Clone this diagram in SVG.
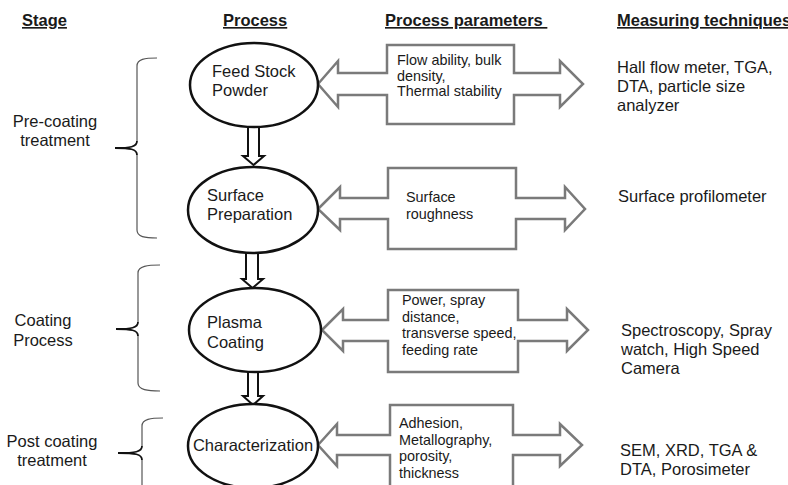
<svg xmlns="http://www.w3.org/2000/svg" width="788" height="485" viewBox="0 0 788 485">
<style>
text{font-family:"Liberation Sans",Arial,sans-serif;fill:#1a1a1a}
.hdr{font-size:16.5px;font-weight:bold;text-decoration:underline}
.body{font-size:16.5px}
.small{font-size:14.4px}
.stage{font-size:16.5px;text-anchor:middle}
.ell{fill:#fff;stroke:#111;stroke-width:2.5}
.down{fill:#fff;stroke:#111;stroke-width:2}
.dbl{fill:#fff;stroke:#7a7a7a;stroke-width:2.5;stroke-linejoin:miter}
.brace{fill:none;stroke:#555;stroke-width:1.2}
.tick{fill:none;stroke:#111;stroke-width:1.8}
</style>
<rect width="788" height="485" fill="#fff"/>

<g id="headers">
<text class="hdr" x="22" y="26">Stage</text>
<text class="hdr" x="223" y="26">Process</text>
<text class="hdr" x="385" y="26">Process parameters&#160;</text>
<text class="hdr" x="617" y="26">Measuring techniques</text>
</g>

<g id="stages">
<g id="stage-pre">
<path class="brace" d="M157,58 C145,58 137,59 137,66 L137,141"/>
<path class="brace" d="M137,155 L137,230 C137,237 145,238 157,238"/>
<path class="tick" d="M115,148 C130,148 137,147 137,141 M115,148 C130,148 137,149 137,155"/>
<text class="stage" x="55" y="127">Pre-coating</text>
<text class="stage" x="55" y="146">treatment</text>
</g>
<g id="stage-coating">
<path class="brace" d="M160,265 C148,265 138,266 138,273 L138,322"/>
<path class="brace" d="M138,336 L138,383 C138,390 148,391 160,391"/>
<path class="tick" d="M116,329 C131,329 138,328 138,322 M116,329 C131,329 138,330 138,336"/>
<text class="stage" x="43" y="326">Coating</text>
<text class="stage" x="43" y="346">Process</text>
</g>
<g id="stage-post">
<path class="brace" d="M163,418 C151,418 142,419 142,426 L142,446"/>
<path class="brace" d="M142,460 L142,520"/>
<path class="tick" d="M118,453 C135,453 142,452 142,446 M118,453 C135,453 142,454 142,460"/>
<text class="stage" x="52" y="447">Post coating</text>
<text class="stage" x="52" y="466">treatment</text>
</g>
</g>

<g id="connectors">
<path class="down" d="M248,127 L259,127 L259,156 L264,156 L253.5,165 L243,156 L248,156 Z"/>
<path class="down" d="M246,253 L258,253 L258,279 L263,279 L252.5,288 L242,279 L246,279 Z"/>
<path class="down" d="M248,371 L258,371 L258,396 L263,396 L253,405 L243,396 L248,396 Z"/>
</g>

<g id="param-feed">
<path class="dbl" d="M318,84 L338,61 L338,73 L387,73 L387,45 L514,45 L514,73 L560,73 L560,61 L583,84 L560,107 L560,95 L514,95 L514,124 L387,124 L387,95 L338,95 L338,107 Z"/>
<text class="small" x="397" y="65">Flow ability, bulk</text>
<text class="small" x="397" y="80.5">density,</text>
<text class="small" x="397" y="96">Thermal stability</text>
</g>
<g id="param-surface">
<path class="dbl" d="M318,209 L340,187 L340,198 L388,198 L388,168 L516,168 L516,198 L565,198 L565,187 L585,209 L565,230 L565,219 L516,219 L516,249 L388,249 L388,219 L340,219 L340,230 Z"/>
<text class="small" x="406" y="202">Surface</text>
<text class="small" x="406" y="219">roughness</text>
</g>
<g id="param-plasma">
<path class="dbl" d="M322,330 L343,309 L343,320 L388,320 L388,290 L518,290 L518,320 L567,320 L567,309 L588,330 L567,351 L567,341 L518,341 L518,372 L388,372 L388,341 L343,341 L343,351 Z"/>
<text class="small" x="402" y="305">Power, spray</text>
<text class="small" x="402" y="321.5">distance,</text>
<text class="small" x="402" y="338">transverse speed,</text>
<text class="small" x="402" y="354.5">feeding rate</text>
</g>
<g id="param-char">
<path class="dbl" d="M318,445 L337,424 L337,435 L390,435 L390,405 L513,405 L513,435 L560,435 L560,424 L582,445 L560,466 L560,455 L513,455 L513,500 L390,500 L390,455 L337,455 L337,466 Z"/>
<text class="small" x="399" y="428">Adhesion,</text>
<text class="small" x="399" y="444.5">Metallography,</text>
<text class="small" x="399" y="461">porosity,</text>
<text class="small" x="399" y="477.5">thickness</text>
</g>

<g id="node-feed">
<ellipse class="ell" cx="254" cy="85" rx="64" ry="42"/>
<text class="body" x="212" y="77">Feed Stock</text>
<text class="body" x="212" y="96">Powder</text>
</g>
<g id="node-surface">
<ellipse class="ell" cx="253" cy="210" rx="65" ry="43"/>
<text class="body" x="207" y="201">Surface</text>
<text class="body" x="207" y="220">Preparation</text>
</g>
<g id="node-plasma">
<ellipse class="ell" cx="255" cy="330" rx="66" ry="42"/>
<text class="body" x="207" y="328">Plasma</text>
<text class="body" x="207" y="348">Coating</text>
</g>
<g id="node-char">
<ellipse class="ell" cx="253" cy="446" rx="65" ry="42"/>
<text class="body" x="253" y="451" text-anchor="middle">Characterization</text>
</g>

<g id="measure">
<text class="body" x="617" y="73">Hall flow meter, TGA,</text>
<text class="body" x="617" y="92">DTA, particle size</text>
<text class="body" x="617" y="111">analyzer</text>
<text class="body" x="618" y="202">Surface profilometer</text>
<text class="body" x="621" y="336">Spectroscopy, Spray</text>
<text class="body" x="621" y="355">watch, High Speed</text>
<text class="body" x="621" y="374">Camera</text>
<text class="body" x="620" y="456">SEM, XRD, TGA &amp;</text>
<text class="body" x="620" y="475">DTA, Porosimeter</text>
</g>
</svg>
